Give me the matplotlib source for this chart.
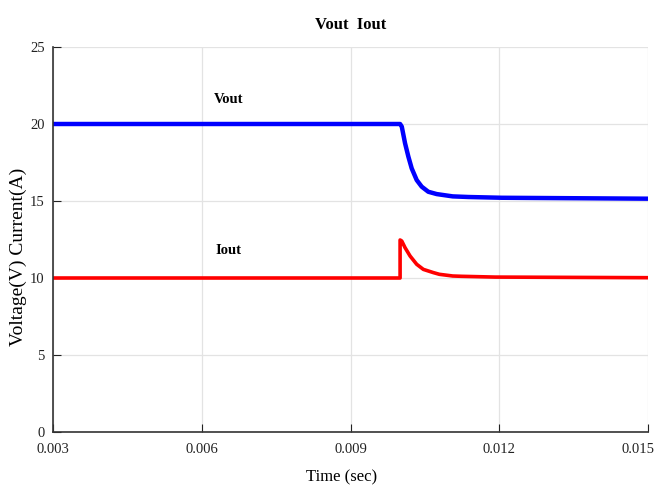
import matplotlib
matplotlib.use("Agg")
import matplotlib.pyplot as plt
import matplotlib.transforms as mtransforms

# Data
vout_t = [0.003, 0.0100, 0.010034, 0.010100, 0.010167, 0.010234, 0.010335, 0.010436,
          0.010569, 0.010738, 0.011061, 0.011376, 0.01205, 0.015]
vout_v = [20.0, 20.0, 19.83, 18.75, 17.88, 17.12, 16.36, 15.93,
          15.60, 15.45, 15.30, 15.26, 15.21, 15.15]

iout_t = [0.003, 0.0100, 0.0100, 0.010034, 0.010100, 0.010201, 0.010335, 0.010469,
          0.010671, 0.010792, 0.011061, 0.011243, 0.011914, 0.015]
iout_v = [10.0, 10.0, 12.47, 12.4, 11.97, 11.43, 10.89, 10.56,
          10.35, 10.24, 10.13, 10.11, 10.06, 10.02]

xticks = [0.003, 0.006, 0.009, 0.012, 0.015]
xtick_labels = ["0.003", "0.006", "0.009", "0.012", "0.015"]
yticks = [0, 5, 10, 15, 20, 25]

plt.rcParams['font.family'] = ['Liberation Serif', 'DejaVu Serif']

fig = plt.figure(figsize=(6.57, 4.86), dpi=100)
ax = fig.add_axes([0.0807, 0.1111, 0.9056, 0.7922])

ax.plot(vout_t, vout_v, color='#0000ff', lw=3.2, solid_joinstyle='round')
ax.plot(iout_t, iout_v, color='#ff0000', lw=2.6, solid_joinstyle='round')

ax.set_xlim(0.003, 0.015)
ax.set_ylim(0, 25)
ax.set_xticks(xticks)
ax.set_xticklabels(xtick_labels)
ax.set_yticks(yticks)
ax.grid(True, color='#e3e3e3', lw=0.9)
ax.set_axisbelow(True)
for s in ['top', 'right']:
    ax.spines[s].set_visible(False)
for s in ['left', 'bottom']:
    ax.spines[s].set_color('#333333')
    ax.spines[s].set_linewidth(1.2)
ax.tick_params(direction='in', length=6, width=0.8, labelsize=10.5, colors='#222222')
ax.tick_params(axis='x', pad=8)
ax.tick_params(axis='y', pad=6)

# nudge the last x tick label so it stays inside the figure
last = ax.get_xticklabels()[-1]
last.set_transform(last.get_transform() +
                   mtransforms.ScaledTranslation(-7 / 72, 0, fig.dpi_scale_trans))

ax.set_title("Vout  Iout", fontsize=12, fontweight='bold', pad=13)
ax.set_xlabel("Time (sec)", fontsize=12)
ax.xaxis.set_label_coords(0.485, -0.098)
ax.set_ylabel("Voltage(V) Current(A)", fontsize=14)
ax.yaxis.set_label_coords(-0.043, 0.455)

ax.text(0.00655, 21.56, "Vout", fontsize=10.5, fontweight='bold', ha='center', va='center')
ax.text(0.00653, 11.8, "Iout", fontsize=10.5, fontweight='bold', ha='center', va='center')

fig.savefig("out.png", dpi=100)
